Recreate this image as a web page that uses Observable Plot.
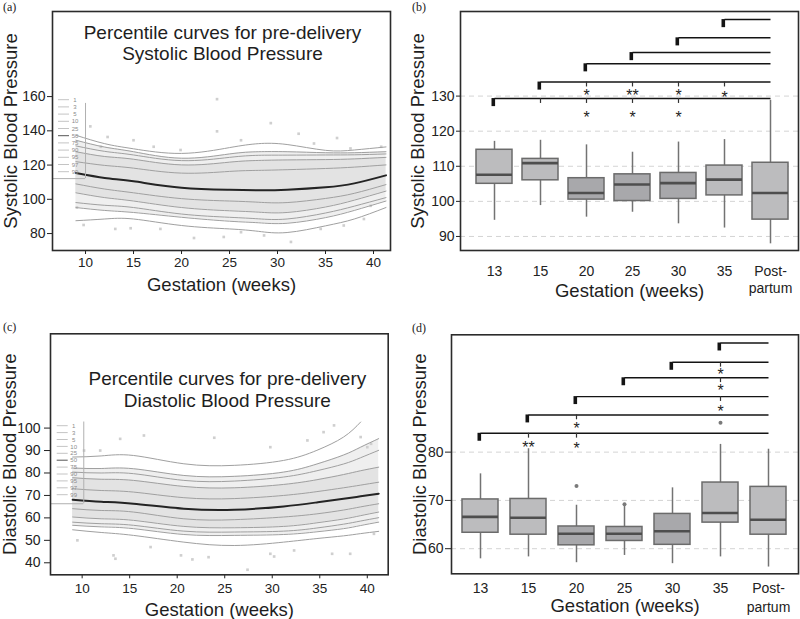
<!DOCTYPE html>
<html><head><meta charset="utf-8">
<script src="https://cdn.jsdelivr.net/npm/d3@7"></script>
<script src="https://cdn.jsdelivr.net/npm/@observablehq/plot@0.6"></script>
<style>
html,body{margin:0;padding:0;background:#fff;}
#wrap{position:relative;width:800px;height:619px;overflow:hidden;font-family:"Liberation Sans",Arial,sans-serif;}
.panel{position:absolute;}
.tag{position:absolute;font-family:"Liberation Serif","Times New Roman",serif;font-size:12px;color:#222;line-height:12px;}
</style></head><body><div id="wrap"></div>
<script>
// ---------- data ----------
const percentiles = [1, 3, 5, 10, 25, 50, 75, 90, 95, 97, 99];

// (a) systolic percentile curves
const sbpWeeks = [9, 12, 15, 20, 25, 28, 31, 35, 38, 41.3];
const sbpCurves = [
  [87.5, 88.5, 88.5, 84.7, 82.7, 81.3, 80.6, 84.5, 88.5, 95.2],
  [95.2, 93.5, 92.3, 89.5, 87.2, 86.3, 86.0, 89.3, 93.5, 99.0],
  [98.1, 96.5, 95.2, 91.4, 89.5, 88.6, 88.5, 92.0, 96.0, 101.0],
  [103.8, 101.0, 99.0, 95.2, 93.3, 92.5, 92.3, 95.5, 99.5, 104.8],
  [109.0, 106.0, 103.8, 100.4, 99.0, 98.3, 98.1, 100.5, 103.5, 108.6],
  [115.4, 112.5, 110.5, 106.8, 105.6, 105.3, 105.6, 107.0, 109.3, 114.0],
  [122.0, 119.8, 118.2, 115.3, 116.3, 116.9, 117.3, 118.0, 118.8, 120.1],
  [127.8, 125.0, 123.4, 120.1, 121.7, 122.7, 123.0, 123.2, 123.6, 124.5],
  [131.2, 128.0, 125.9, 122.6, 124.5, 125.7, 125.8, 125.9, 126.0, 126.5],
  [134.5, 130.5, 127.8, 124.0, 126.5, 127.8, 127.8, 127.2, 127.2, 127.8],
  [137.4, 132.5, 129.5, 126.8, 130.2, 132.5, 132.0, 128.6, 128.8, 130.6]
];
const sbpDotWeeks = [23.7, 23.7, 29.3, 10.5, 15.0, 12.3, 32.2, 36.2, 21.3, 31.4, 9.8, 13.1, 14.7, 26.2, 34.5, 39.0, 36.9, 28.6, 9.1, 39.7, 24.4, 17.8, 19.9, 17.1, 26.2, 40.8, 37.6, 33.8, 11.6];
const sbpDotValues = [158.5, 139.7, 144.5, 142.6, 134.5, 136.4, 138.3, 135.8, 77.4, 75.1, 85.0, 82.7, 83.1, 80.8, 82.7, 88.5, 84.7, 78.9, 95.2, 96.2, 78.0, 82.7, 128.8, 130.7, 134.5, 130.7, 129.7, 132.6, 130.7];
const sbpWeekTicks = [10, 15, 20, 25, 30, 35, 40];
const sbpValueTicks = [80, 100, 120, 140, 160];
const sbpLegendWeek = 10, sbpLegendTop = 156, sbpLegendBottom = 112.1;

// (c) diastolic percentile curves
const dbpWeeks = [9, 12, 15.4, 20.7, 26, 31.2, 34.7, 37.5, 39.3, 41.2];
const dbpCurves = [
  [54.7, 53.5, 52.2, 49.2, 47.7, 49.2, 50.8, 52.0, 53.0, 54.0],
  [56.7, 56.0, 55.2, 52.6, 52.2, 52.6, 53.8, 55.2, 56.6, 58.1],
  [58.1, 57.4, 56.7, 54.1, 53.7, 54.1, 55.5, 57.2, 58.6, 60.1],
  [60.4, 59.6, 58.9, 56.2, 55.6, 56.2, 57.8, 59.5, 61.0, 62.6],
  [64.1, 63.3, 62.6, 59.6, 59.2, 60.4, 61.8, 63.5, 64.9, 66.3],
  [68.1, 67.2, 66.3, 64.1, 63.6, 65.1, 66.9, 68.5, 69.6, 70.8],
  [73.0, 72.2, 71.5, 69.0, 68.6, 70.0, 71.7, 73.4, 74.6, 75.9],
  [77.9, 77.2, 76.7, 74.0, 73.4, 74.9, 77.0, 79.3, 81.0, 82.6],
  [80.4, 80.0, 79.7, 76.7, 76.4, 78.2, 81.0, 84.0, 86.8, 90.1],
  [82.2, 82.0, 81.9, 78.9, 78.5, 80.4, 84.0, 88.0, 91.5, 95.3],
  [87.1, 87.6, 87.8, 84.1, 83.4, 85.6, 90.1, 96.0, 102.7, null]
];
const dbpDotWeeks = [36.5, 35.4, 16.5, 14.0, 23.9, 29.8, 11.9, 39.3, 40.0, 40.4, 33.7, 13.3, 13.5, 20.4, 21.6, 23.3, 27.4, 29.8, 30.2, 32.3, 36.3, 38.2, 17.2, 9.5, 40.7, 10.2];
const dbpDotValues = [101.2, 98.2, 96.7, 95.2, 95.7, 91.5, 90.0, 96.0, 91.5, 93.0, 94.5, 43.3, 41.8, 43.3, 41.5, 42.5, 36.9, 44.0, 42.8, 45.5, 44.0, 44.0, 47.0, 50.0, 52.9, 90.0];
const dbpWeekTicks = [10, 15, 20, 25, 30, 35, 40];
const dbpValueTicks = [40, 50, 60, 70, 80, 90, 100];
const dbpLegendWeek = 10.17, dbpLegendTop = 102.7, dbpLegendBottom = 66.3;

// (b) / (d) box plots
const boxCats = ["13", "15", "20", "25", "30", "35", "Post-partum"];
const darkCats = ["20", "25", "30"];
const sbpLow  = [94.6, 98.8, 95.5, 96.9, 93.6, 92.4, 87.9];
const sbpQ1   = [105.0, 106.0, 100.5, 100.1, 100.7, 101.7, 94.8];
const sbpMed  = [107.6, 110.9, 102.4, 104.8, 105.2, 106.2, 102.4];
const sbpQ3   = [114.7, 112.1, 106.6, 107.7, 108.1, 110.2, 111.0];
const sbpHigh = [117.1, 117.4, 116.1, 114.0, 116.9, 117.6, 128.8];
const sbpGrid = [90, 100, 110, 120, 130];
const sbpBracketFrom = ["13", "15", "20", "25", "30", "35"];
const sbpBracketLevel = [129.3, 134.0, 139.2, 142.4, 146.6, 151.8];
const sbpSigTickCats = ["20", "25", "30", "35", "15", "20", "25", "30"];
const sbpSigTickLevels = [134.0, 134.0, 134.0, 134.0, 129.3, 129.3, 129.3, 129.3];
const sbpStarCats = ["20", "25", "30", "35", "20", "25", "30"];
const sbpStarValues = [131.1, 131.1, 131.1, 130.7, 125.0, 125.0, 125.0];
const sbpStarLabels = ["*", "**", "*", "*", "*", "*", "*"];

const dbpLow  = [57.9, 58.3, 57.1, 58.6, 56.9, 58.3, 56.2];
const dbpQ1   = [63.3, 62.9, 60.7, 61.6, 60.8, 65.4, 62.9];
const dbpMed  = [66.6, 66.4, 63.1, 63.1, 63.6, 67.4, 66.0];
const dbpQ3   = [70.2, 70.3, 64.6, 64.5, 67.2, 73.7, 72.8];
const dbpHigh = [75.5, 80.7, 69.0, 69.2, 72.6, 81.6, 80.6];
const dbpOutlierCats = ["20", "25", "35"];
const dbpOutlierValues = [73.0, 69.2, 86.1];
const dbpGrid = [60, 70, 80];
const dbpBracketFrom = ["13", "15", "20", "25", "30", "35"];
const dbpBracketLevel = [83.9, 87.7, 91.5, 95.4, 98.6, 102.6];
const dbpSigTickCats = ["35", "35", "35", "20", "15", "20"];
const dbpSigTickLevels = [98.6, 95.4, 91.5, 87.7, 83.9, 83.9];
const dbpStarCats = ["35", "35", "35", "20", "15", "20"];
const dbpStarValues = [96.8, 93.6, 89.1, 85.7, 81.7, 81.5];
const dbpStarLabels = ["*", "*", "*", "*", "**", "*"];

// ---------- helpers ----------
const FONT = "'Liberation Sans', Arial, Helvetica, sans-serif";
const wrap = document.getElementById("wrap");
function place(node, left, top) {
  const d = document.createElement("div");
  d.className = "panel"; d.style.left = left + "px"; d.style.top = top + "px";
  d.appendChild(node); wrap.appendChild(d);
}
function tag(text, left, top) {
  const d = document.createElement("div");
  d.className = "tag"; d.style.left = left + "px"; d.style.top = top + "px";
  d.textContent = text; wrap.appendChild(d);
}
function curveTables(weeks, curves) {
  const wide = weeks.map((w, i) => {
    const r = {week: w};
    percentiles.forEach((p, k) => r["p" + p] = curves[k][i]);
    return r;
  });
  const long = [];
  percentiles.forEach((p, k) => weeks.forEach((w, i) => long.push({pct: p, week: w, value: curves[k][i]})));
  return {wide, long};
}
function addLegend(svg, x0, y0, step) {
  const g = d3.select(svg).append("g")
    .attr("font-family", FONT).attr("font-size", 6).attr("fill", "#8c8c8c");
  percentiles.forEach((p, i) => {
    const y = y0 + i * step;
    g.append("line").attr("x1", x0).attr("x2", x0 + 11).attr("y1", y).attr("y2", y)
      .attr("stroke", p === 50 ? "#555" : "#c4c4c4").attr("stroke-width", 1);
    g.append("text").attr("x", x0 + 17).attr("y", y).attr("dy", "0.35em").text(p);
  });
}
const T = {textAnchor: "middle", lineAnchor: "middle", fill: "#1e1e1e"};

function percentilePanel(o) {
  const {wide, long} = curveTables(o.weeks, o.curves);
  const dots = o.dotWeeks.map((w, i) => ({week: w, value: o.dotValues[i]}));
  return Plot.plot({
    width: 400, height: o.height,
    marginTop: o.mt, marginRight: o.mr, marginBottom: o.mb, marginLeft: o.ml,
    style: {fontFamily: FONT, color: "#222", background: "none", overflow: "visible"},
    x: {domain: o.xDomain, label: null},
    y: {domain: o.yDomain, label: null},
    marks: [
      Plot.areaY(wide, {x: "week", y1: "p3", y2: "p97", curve: "natural", fill: "#efefef"}),
      Plot.areaY(wide, {x: "week", y1: "p10", y2: "p90", curve: "natural", fill: "#e3e3e3"}),
      Plot.dot(dots, {x: "week", y: "value", symbol: "square", r: 1.5, fill: "#cfcfcf"}),
      Plot.line(long.filter(d => d.pct !== 50), {x: "week", y: "value", z: "pct", curve: "natural", stroke: "#a0a0a0", strokeWidth: 1}),
      Plot.line(long.filter(d => d.pct === 50), {x: "week", y: "value", curve: "natural", stroke: "#242424", strokeWidth: 2}),
      Plot.ruleX([o.legendWeek], {y1: o.legendBottom, y2: o.legendTop, stroke: "#b0b0b0", strokeWidth: 1}),
      Plot.ruleY([o.legendBottom], {x1: o.xDomain[0], x2: o.legendWeek, stroke: "#b0b0b0", strokeWidth: 1}),
      Plot.axisX({ticks: o.xTicks, tickSize: 4, tickPadding: o.xPad, fontSize: 13.5, label: null}),
      Plot.axisY({ticks: o.yTicks, tickSize: o.yTickSize, tickPadding: o.yPad, fontSize: 14, label: null}),
      Plot.frame({stroke: "#2b2b2b", strokeWidth: 1.6}),
      Plot.text(["Percentile curves for pre-delivery"], {...T, text: d => d, frameAnchor: "top", dy: o.t1, dx: o.tdx, fontSize: 19}),
      Plot.text([o.title2], {...T, text: d => d, frameAnchor: "top", dy: o.t2, dx: o.tdx, fontSize: 19}),
      Plot.text(["Gestation (weeks)"], {...T, text: d => d, frameAnchor: "bottom", dy: o.xTitleDy, fontSize: 18.5}),
      Plot.text([o.yTitle], {...T, text: d => d, frameAnchor: "left", rotate: -90, dx: o.yTitleDx, fontSize: 18.5})
    ]
  });
}

function boxPanel(o) {
  const rows = boxCats.map((c, i) => ({cat: c, lo: o.low[i], q1: o.q1[i], med: o.med[i], q3: o.q3[i], hi: o.high[i]}));
  const brackets = o.bFrom.map((c, i) => ({from: c, to: "Post-partum", level: o.bLevel[i]}));
  const sigTicks = o.tickCats.map((c, i) => ({cat: c, level: o.tickLevels[i]}));
  const stars = o.starCats.map((c, i) => ({cat: c, v: o.starValues[i], label: o.starLabels[i]}));
  const outliers = (o.outCats || []).map((c, i) => ({cat: c, v: o.outValues[i]}));
  return Plot.plot({
    width: 400, height: o.height,
    marginTop: o.mt, marginRight: 2, marginBottom: o.mb, marginLeft: o.ml,
    style: {fontFamily: FONT, color: "#222", background: "none", overflow: "visible"},
    x: {type: "band", domain: boxCats, paddingInner: o.pad, paddingOuter: o.pad / 2, align: 0.5,
        insetLeft: o.insetL, insetRight: o.insetR, label: null},
    y: {domain: o.yDomain, label: null},
    marks: [
      Plot.ruleY(o.grid, {stroke: "#d4d4d4", strokeWidth: 1, strokeDasharray: "5,4"}),
      Plot.ruleX(rows, {x: "cat", y1: "lo", y2: "hi", stroke: "#737373", strokeWidth: 1.5}),
      Plot.barY(rows, {x: "cat", y1: "q1", y2: "q3",
        fill: d => darkCats.includes(d.cat) ? "#a8a8ab" : "#bcbcbe", stroke: "#6b6b6b", strokeWidth: 1.5}),
      Plot.tickY(rows, {x: "cat", y: "med", stroke: "#4e4e4e", strokeWidth: 2.6}),
      Plot.dot(outliers, {x: "cat", y: "v", r: 2, fill: "#7a7a7a"}),
      Plot.link(brackets, {x1: "from", x2: "to", y1: "level", y2: "level", stroke: "#141414", strokeWidth: 1.4}),
      Plot.ruleX(brackets, {x: "from", y1: "level", y2: d => d.level - o.capLen, stroke: "#141414", strokeWidth: 3.6, dx: -1.2}),
      Plot.ruleX(sigTicks, {x: "cat", y1: "level", y2: d => d.level - o.sigLen, stroke: "#333", strokeWidth: 1.2}),
      Plot.text(stars, {x: "cat", y: "v", text: "label", fontSize: 16, dy: 4, fill: "#1e1e1e"}),
      Plot.axisX({tickSize: 0, tickPadding: o.xPad, fontSize: o.xFont, lineHeight: o.lh, label: null,
        tickFormat: d => d === "Post-partum" ? "Post-\npartum" : d}),
      Plot.axisY({ticks: o.grid, tickSize: o.yTickSize, tickPadding: o.yPad, fontSize: 14, label: null}),
      Plot.frame({stroke: "#2b2b2b", strokeWidth: 1.6}),
      Plot.text(["Gestation (weeks)"], {...T, text: d => d, frameAnchor: "bottom", dy: o.xTitleDy, fontSize: 18.5}),
      Plot.text([o.yTitle], {...T, text: d => d, frameAnchor: "left", rotate: -90, dx: o.yTitleDx, fontSize: 18.5})
    ]
  });
}

// ---------- panels ----------
const pa = percentilePanel({
  weeks: sbpWeeks, curves: sbpCurves, dotWeeks: sbpDotWeeks, dotValues: sbpDotValues,
  height: 300, mt: 11, mr: 10, mb: 50, ml: 52,
  xDomain: [6.56, 41.77], yDomain: [70.1, 209.7], xTicks: sbpWeekTicks, yTicks: sbpValueTicks,
  xPad: 3, yTickSize: 5, yPad: 2,
  legendWeek: sbpLegendWeek, legendTop: sbpLegendTop, legendBottom: sbpLegendBottom,
  t1: 21, t2: 42, tdx: 1, title2: "Systolic Blood Pressure",
  xTitleDy: 35, yTitle: "Systolic Blood Pressure", yTitleDx: -41
});
addLegend(pa, 58, 99.7, 7.2);
place(pa, 0, 0);

const pb = boxPanel({
  low: sbpLow, q1: sbpQ1, med: sbpMed, q3: sbpQ3, high: sbpHigh,
  height: 300, mt: 11, mb: 50, ml: 60, pad: 0.227, insetL: 8.4, insetR: 3.7,
  yDomain: [86, 154.1], grid: sbpGrid,
  bFrom: sbpBracketFrom, bLevel: sbpBracketLevel, capLen: 2.3,
  tickCats: sbpSigTickCats, tickLevels: sbpSigTickLevels, sigLen: 1.4,
  starCats: sbpStarCats, starValues: sbpStarValues, starLabels: sbpStarLabels,
  xPad: 13, xFont: 14, lh: 1.25, yTickSize: 4, yPad: 2,
  xTitleDy: 41, yTitle: "Systolic Blood Pressure", yTitleDx: -42
});
place(pb, 400, 0);

const pc = percentilePanel({
  weeks: dbpWeeks, curves: dbpCurves, dotWeeks: dbpDotWeeks, dotValues: dbpDotValues,
  height: 319, mt: 33.3, mr: 12.3, mb: 44.7, ml: 50,
  xDomain: [6.67, 42.2], yDomain: [34.65, 142], xTicks: dbpWeekTicks, yTicks: dbpValueTicks,
  xPad: 5, yTickSize: 6, yPad: 4,
  legendWeek: dbpLegendWeek, legendTop: dbpLegendTop, legendBottom: dbpLegendBottom,
  t1: 44.7, t2: 66.7, tdx: 8, title2: "Diastolic Blood Pressure",
  xTitleDy: 35, yTitle: "Diastolic Blood Pressure", yTitleDx: -40
});
addLegend(pc, 56.7, 125.7, 6.9);
place(pc, 0, 300);

const pd = boxPanel({
  low: dbpLow, q1: dbpQ1, med: dbpMed, q3: dbpQ3, high: dbpHigh,
  outCats: dbpOutlierCats, outValues: dbpOutlierValues,
  height: 319, mt: 34.3, mb: 45.7, ml: 51, pad: 0.246, insetL: 4.2, insetR: 5.6,
  yDomain: [54.8, 104.3], grid: dbpGrid,
  bFrom: dbpBracketFrom, bLevel: dbpBracketLevel, capLen: 1.65,
  tickCats: dbpSigTickCats, tickLevels: dbpSigTickLevels, sigLen: 1.0,
  starCats: dbpStarCats, starValues: dbpStarValues, starLabels: dbpStarLabels,
  xPad: 6, xFont: 14, lh: 1.35, yTickSize: 6, yPad: 2,
  xTitleDy: 32, yTitle: "Diastolic Blood Pressure", yTitleDx: -31
});
place(pd, 400, 300);

tag("(a)", 3, 1);
tag("(b)", 412, 1);
tag("(c)", 3, 321);
tag("(d)", 412, 322);
</script>
</body></html>
